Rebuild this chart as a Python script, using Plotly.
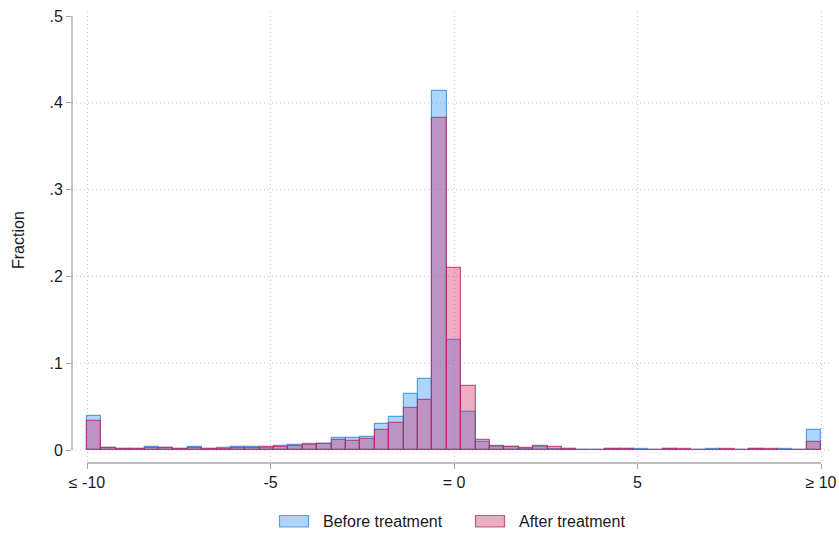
import numpy as np
import plotly.graph_objects as go

# ---- data ----
bin_lo, bin_hi, n_bins = -10.0, 10.0, 51
before = [0.0390, 0.0019, 0.0006, 0.0006, 0.0035, 0.0023, 0.0010, 0.0030, 0.0015, 0.0019,
          0.0035, 0.0030, 0.0027, 0.0050, 0.0058, 0.0065, 0.0073, 0.0138, 0.0134, 0.0150,
          0.0297, 0.0375, 0.0647, 0.0820, 0.4140, 0.1270, 0.0443, 0.0092, 0.0038, 0.0040,
          0.0016, 0.0035, 0.0012, 0.0011, 0.0005, 0.0005, 0.0008, 0.0007, 0.0006, 0.0005,
          0.0006, 0.0005, 0.0005, 0.0006, 0.0005, 0.0004, 0.0006, 0.0005, 0.0006, 0.0004,
          0.0228]
after = [0.0338, 0.0022, 0.0006, 0.0006, 0.0023, 0.0023, 0.0010, 0.0019, 0.0012, 0.0015,
         0.0023, 0.0022, 0.0030, 0.0038, 0.0042, 0.0061, 0.0069, 0.0110, 0.0104, 0.0127,
         0.0232, 0.0312, 0.0486, 0.0580, 0.3820, 0.2100, 0.0743, 0.0112, 0.0046, 0.0035,
         0.0028, 0.0046, 0.0030, 0.0015, 0.0005, 0.0005, 0.0008, 0.0008, 0.0005, 0.0005,
         0.0007, 0.0006, 0.0005, 0.0000, 0.0006, 0.0005, 0.0006, 0.0006, 0.0000, 0.0005,
         0.0088]
series_names = ["Before treatment", "After treatment"]
x_tickvals = [-10, -5, 0, 5, 10]
x_ticktext = ["≤ -10", "-5", "= 0", "5", "≥ 10"]
y_tickvals = [0, 0.1, 0.2, 0.3, 0.4, 0.5]
y_ticktext = ["0", ".1", ".2", ".3", ".4", ".5"]

edges = np.linspace(bin_lo, bin_hi, n_bins + 1)
centers = (edges[:-1] + edges[1:]) / 2
width = edges[1] - edges[0]

FONT = "Liberation Sans, Arial, sans-serif"
fills = ["rgba(51,153,255,0.40)", "rgba(204,51,102,0.40)"]
lines = ["rgba(40,135,235,0.75)", "rgba(190,40,95,0.75)"]

fig = go.Figure()
for vals, name, fc, lc in zip([before, after], series_names, fills, lines):
    fig.add_trace(go.Bar(x=centers, y=vals, width=width, name=name,
                         marker=dict(color=fc, line=dict(color=lc, width=1.2)),
                         showlegend=False))

W, H = 839, 536
L, R, T, B = 72, 8, 12, 73
pw, ph = W - L - R, H - T - B
pxu_x = 734 / 20.0
pxu_y = 868.0
x0 = -10 - 15 / pxu_x
x1 = x0 + pw / pxu_x
y0 = -13 / pxu_y
y1 = y0 + ph / pxu_y

shapes = []
axis_col = "#A6A6A6"
grid_col = "#C4C4C4"
grid_dash = "1px,3px"
for yv in y_tickvals[:-1]:
    shapes.append(dict(type="line", xref="paper", yref="y", x0=0, x1=1, y0=yv, y1=yv,
                       line=dict(color=grid_col, width=1, dash=grid_dash), layer="below"))
shapes.append(dict(type="line", xref="paper", yref="y", x0=0, x1=0,
                   y0=y_tickvals[0], y1=y_tickvals[-1], line=dict(color=axis_col, width=1.3)))
shapes.append(dict(type="line", xref="x", yref="paper", x0=x_tickvals[0], x1=x_tickvals[-1],
                   y0=0, y1=0, line=dict(color=axis_col, width=1.3)))

# custom legend
def px2paper(px, py):
    return (px - L) / pw, (H - B - py) / ph

annotations = []
leg = [(279.5, 320.5), (475.5, 516.5)]
for (sx, tx), fc, lc, name in zip(leg, fills, lines, series_names):
    ax0, ay0 = px2paper(sx, 527)
    ax1, ay1 = px2paper(sx + 29, 515.5)
    shapes.append(dict(type="rect", xref="paper", yref="paper", x0=ax0, x1=ax1, y0=ay0, y1=ay1,
                       fillcolor=fc, line=dict(color=lc, width=1.2)))
    tx_p, ty_p = px2paper(tx, 521)
    annotations.append(dict(text=name, xref="paper", yref="paper", x=tx_p, y=ty_p,
                            xanchor="left", yanchor="middle", showarrow=False,
                            font=dict(family=FONT, size=16, color="#1a1a1a")))

fx, fy = px2paper(18, 240)
annotations.append(dict(text="Fraction", xref="paper", yref="paper", x=fx, y=fy,
                        textangle=-90, xanchor="center", yanchor="middle", showarrow=False,
                        font=dict(family=FONT, size=16, color="#1a1a1a")))

fig.update_layout(
    width=W, height=H, margin=dict(l=L, r=R, t=T, b=B, autoexpand=False),
    paper_bgcolor="white", plot_bgcolor="white", barmode="overlay", bargap=0,
    font=dict(family=FONT, size=16, color="#1a1a1a"),
    shapes=shapes, annotations=annotations,
    xaxis=dict(range=[x0, x1], tickvals=x_tickvals, ticktext=x_ticktext,
               showgrid=True, gridcolor=grid_col, griddash=grid_dash, gridwidth=1,
               zeroline=False, showline=False, ticks="outside", ticklen=5,
               tickcolor=axis_col, tickwidth=1.3, tickfont=dict(size=16)),
    yaxis=dict(range=[y0, y1], tickvals=y_tickvals, ticktext=y_ticktext,
               showgrid=False, zeroline=False, showline=False, ticks="outside",
               ticklen=5, tickcolor=axis_col, tickwidth=1.3, tickfont=dict(size=16)),
)

fig.write_html("out.html")
